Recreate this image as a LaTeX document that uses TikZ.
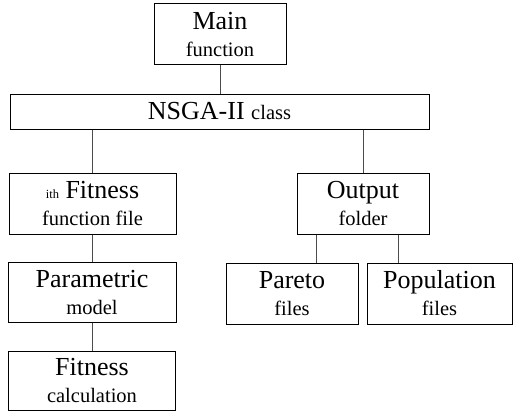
\documentclass[tikz,border=0pt]{standalone}
\usepackage{fontspec}
\setmainfont{Liberation Serif}
\newcommand{\bigt}{\fontsize{26}{27}\selectfont}
\newcommand{\smallt}{\fontsize{20.5}{22}\selectfont}
\newcommand{\tinyt}{\fontsize{12.5}{12}\selectfont}
\newcommand{\twol}[2]{{\bigt #1}\\[0pt]{\smallt #2}}
\begin{document}
\begin{tikzpicture}[x=1pt,y=-1pt,
  boxs/.style={draw=black,line width=1pt,inner sep=0pt,align=center,anchor=center,font=\bigt},
  conn/.style={draw=black!70,line width=1pt}]
\useasboundingbox (0,0) rectangle (513,412);
\node[boxs,minimum width=132pt,minimum height=60pt] (main) at (220,34) {\twol{Main}{function}};
\node[boxs,minimum width=419pt,minimum height=35pt] (nsga) at (219.5,111.5) {NSGA-II {\smallt class}};
\node[boxs,minimum width=167pt,minimum height=61pt] (ith) at (92.5,203.5) {\twol{{\tinyt ith} Fitness}{function file}};
\node[boxs,minimum width=132pt,minimum height=61pt] (out) at (363,203.5) {\twol{Output}{folder}};
\node[boxs,minimum width=168pt,minimum height=60pt] (param) at (92,292) {\twol{Parametric}{model}};
\node[boxs,minimum width=132pt,minimum height=61pt] (pareto) at (292,293.5) {\twol{Pareto}{files}};
\node[boxs,minimum width=145pt,minimum height=61pt] (pop) at (439.5,293.5) {\twol{Population}{files}};
\node[boxs,minimum width=167pt,minimum height=59pt] (fit) at (92,380.5) {\twol{Fitness}{calculation}};
\draw[conn] (main.south) -- (main.south |- nsga.north);
\draw[conn] (nsga.south -| ith.north) -- (ith.north);
\draw[conn] (nsga.south -| out.north) -- (out.north);
\draw[conn] (ith.south) -- (ith.south |- param.north);
\draw[conn] (param.south) -- (param.south |- fit.north);
\draw[conn] ([xshift=-47pt]out.south) -- ([xshift=-47pt]out.south |- pareto.north);
\draw[conn] ([xshift=35pt]out.south) -- ([xshift=35pt]out.south |- pop.north);
\end{tikzpicture}
\end{document}
